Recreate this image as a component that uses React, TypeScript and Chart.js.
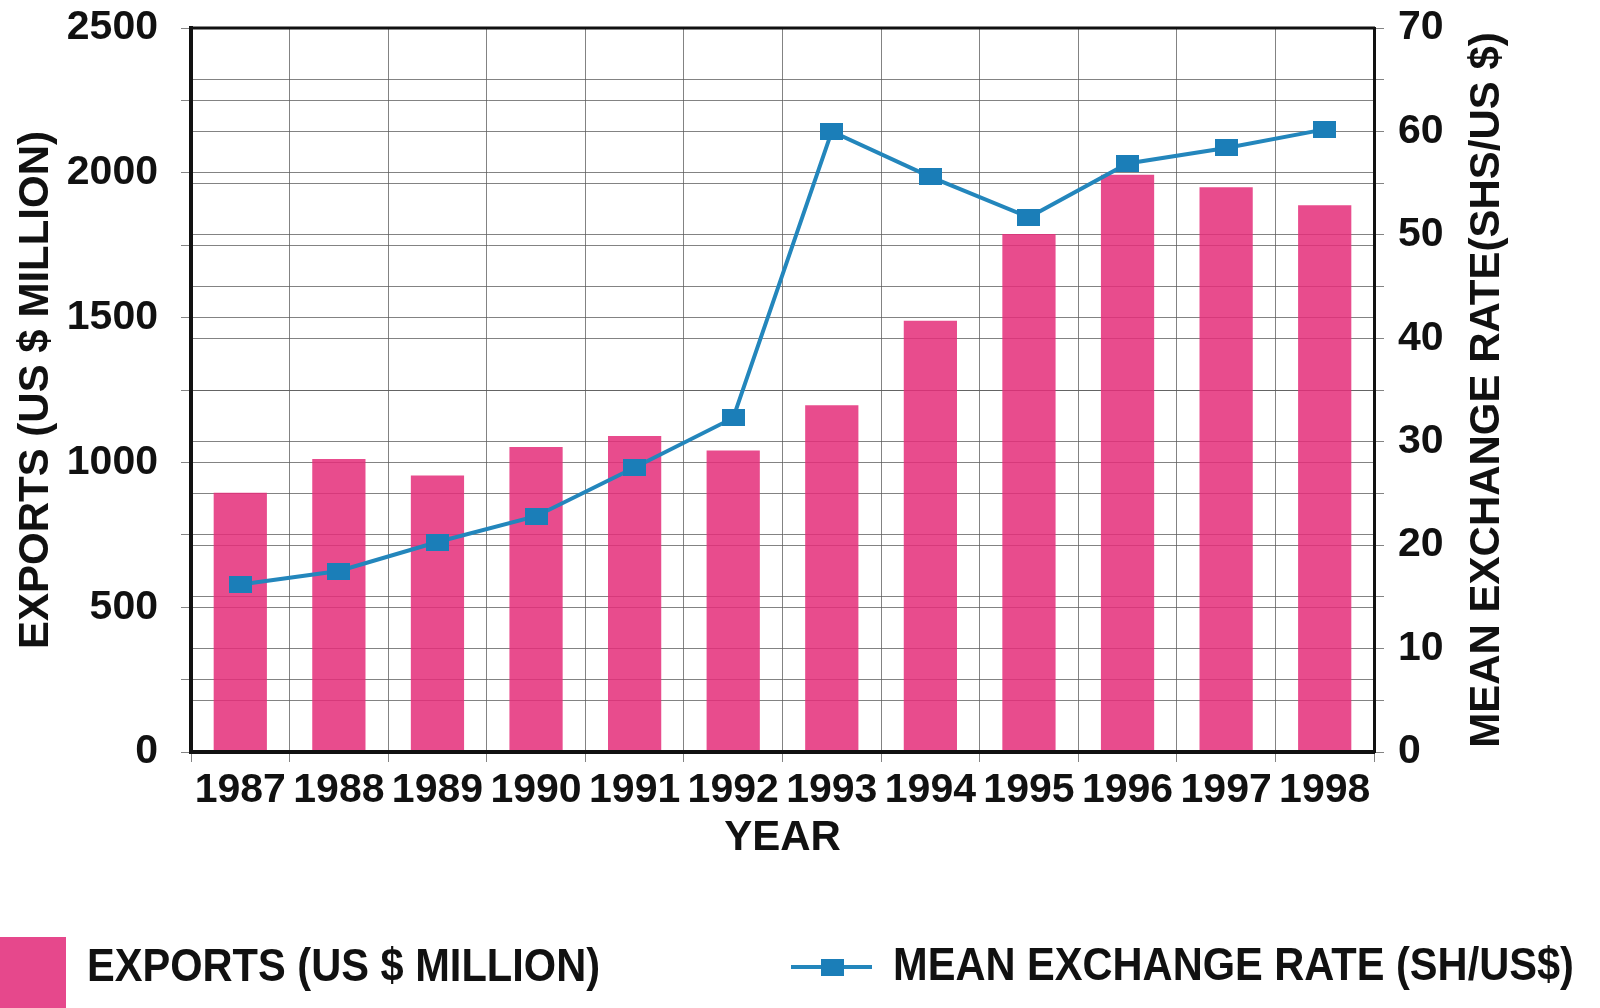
import React, { useEffect, useRef } from "react";
import { Chart, registerables } from "chart.js";

Chart.register(...registerables);

const years = ["1987", "1988", "1989", "1990", "1991", "1992", "1993", "1994", "1995", "1996", "1997", "1998"];
const exportsMillion = [895, 1012, 955, 1053, 1091, 1041, 1197, 1489, 1789, 1993, 1950, 1888];
const exchangeRate = [16.2, 17.5, 20.3, 22.8, 27.5, 32.3, 60.0, 55.6, 51.7, 56.9, 58.4, 60.2];

const leftTitle = "EXPORTS (US $ MILLION)";
const rightTitle = "MEAN EXCHANGE RATE(SHS/US $)";
const xTitle = "YEAR";
const legendBarLabel = "EXPORTS (US $ MILLION)";
const legendLineLabel = "MEAN EXCHANGE RATE (SH/US$)";

const PINK = "rgba(228,46,122,0.86)";
const PINK_SOLID = "#E6488C";
const BLUE = "#1B7EB8";
const LINE_BLUE = "#2386BC";
const GRID = "rgba(90,90,90,0.75)";
const FONT = "'Liberation Sans', Arial, Helvetica, sans-serif";

function makeMarker(): HTMLCanvasElement {
  const c = document.createElement("canvas");
  c.width = 23;
  c.height = 17;
  const g = c.getContext("2d")!;
  g.fillStyle = BLUE;
  g.fillRect(0, 0, 23, 17);
  return c;
}

const decorPlugin = {
  id: "decor",
  afterDraw(chart: any) {
    const { ctx, chartArea } = chart;
    ctx.save();
    // top border
    ctx.strokeStyle = "#111";
    ctx.lineWidth = 3;
    ctx.beginPath();
    ctx.moveTo(chartArea.left - 2, chartArea.top);
    ctx.lineTo(chartArea.right + 1, chartArea.top);
    ctx.stroke();

    // right axis title (reads bottom to top)
    ctx.fillStyle = "#111";
    ctx.font = `bold 42px ${FONT}`;
    ctx.textAlign = "center";
    ctx.textBaseline = "middle";
    ctx.save();
    ctx.translate(1487, (chartArea.top + chartArea.bottom) / 2);
    ctx.rotate(-Math.PI / 2);
    ctx.fillText(rightTitle, 0, 0);
    ctx.restore();

    // legend
    ctx.fillStyle = PINK_SOLID;
    ctx.fillRect(0, 937, 66, 80);

    ctx.strokeStyle = LINE_BLUE;
    ctx.lineWidth = 4;
    ctx.beginPath();
    ctx.moveTo(791, 967);
    ctx.lineTo(872, 967);
    ctx.stroke();
    ctx.fillStyle = BLUE;
    ctx.fillRect(832 - 11, 967 - 8, 23, 17);

    ctx.fillStyle = "#111";
    ctx.font = `bold 47px ${FONT}`;
    ctx.textAlign = "left";
    ctx.textBaseline = "middle";
    ctx.save();
    ctx.translate(87, 968);
    ctx.scale(0.885, 1);
    ctx.fillText(legendBarLabel, 0, 0);
    ctx.restore();
    ctx.save();
    ctx.translate(893, 967);
    ctx.scale(0.885, 1);
    ctx.fillText(legendLineLabel, 0, 0);
    ctx.restore();
    ctx.restore();
  },
};

function zeroPad(s: any) {
  s.paddingTop = 0;
  s.paddingBottom = 0;
  s.paddingLeft = 0;
  s.paddingRight = 0;
}

export default function App() {
  const ref = useRef<HTMLCanvasElement | null>(null);

  useEffect(() => {
    if (!ref.current) return;
    const marker = makeMarker();
    const tickFont = { family: FONT, size: 41, weight: "bold" as const };
    const titleFont = { family: FONT, size: 42, weight: "bold" as const };
    const chart = new Chart(ref.current, {
      type: "bar",
      data: {
        labels: years,
        datasets: [
          {
            type: "line" as const,
            label: legendLineLabel,
            data: exchangeRate,
            yAxisID: "y1",
            borderColor: LINE_BLUE,
            borderWidth: 4,
            backgroundColor: BLUE,
            pointStyle: marker as any,
            pointRadius: 10,
            tension: 0,
            order: 1,
          },
          {
            type: "bar" as const,
            label: legendBarLabel,
            data: exportsMillion,
            yAxisID: "y",
            backgroundColor: PINK,
            borderWidth: 0,
            categoryPercentage: 1,
            barPercentage: 0.54,
            order: 2,
          },
        ],
      },
      options: {
        responsive: false,
        animation: false,
        devicePixelRatio: 1,
        layout: { padding: { top: 28, bottom: 128, left: 0, right: 0 } },
        plugins: {
          legend: { display: false },
          tooltip: { enabled: false },
        },
        scales: {
          x: {
            offset: true,
            grid: { offset: true, color: GRID, lineWidth: 1, tickLength: 10, tickColor: GRID },
            border: { display: true, color: "#111", width: 4, z: 1 },
            ticks: {
              autoSkip: false,
              maxRotation: 0,
              minRotation: 0,
              padding: 4,
              color: "#111",
              font: tickFont,
            },
            title: {
              display: true,
              text: xTitle,
              color: "#111",
              font: titleFont,
              padding: { top: 0, bottom: 16 },
            },
            afterFit: (s: any) => {
              s.height = 128;
              zeroPad(s);
            },
          },
          y: {
            position: "left",
            min: 0,
            max: 2500,
            grid: { color: GRID, lineWidth: 1, tickLength: 10, tickColor: GRID },
            border: { display: true, color: "#111", width: 4, z: 1 },
            ticks: {
              stepSize: 250,
              autoSkip: false,
              padding: 23,
              color: "#111",
              font: tickFont,
              callback: (v: any) => (Number(v) % 500 === 0 ? String(v) : ""),
            },
            title: {
              display: true,
              text: leftTitle,
              color: "#111",
              font: titleFont,
              padding: { top: 11, bottom: 0 },
            },
            afterFit: (s: any) => {
              s.width = 191;
              zeroPad(s);
            },
          },
          y1: {
            position: "right",
            min: 0,
            max: 70,
            grid: { color: GRID, lineWidth: 1, tickLength: 10, tickColor: GRID, drawOnChartArea: true },
            border: { display: true, color: "#111", width: 3, z: 1 },
            ticks: {
              stepSize: 5,
              autoSkip: false,
              padding: 14,
              color: "#111",
              font: tickFont,
              callback: (v: any) => (Number(v) % 10 === 0 ? String(v) : ""),
            },
            afterFit: (s: any) => {
              s.width = 226;
              zeroPad(s);
            },
          },
        },
      },
      plugins: [decorPlugin],
    });
    return () => chart.destroy();
  }, []);

  return (
    <div style={{ position: "absolute", left: 0, top: 0, width: 1600, height: 1008, background: "#fff" }}>
      <canvas ref={ref} width={1600} height={1008} style={{ width: 1600, height: 1008, display: "block" }} />
    </div>
  );
}
